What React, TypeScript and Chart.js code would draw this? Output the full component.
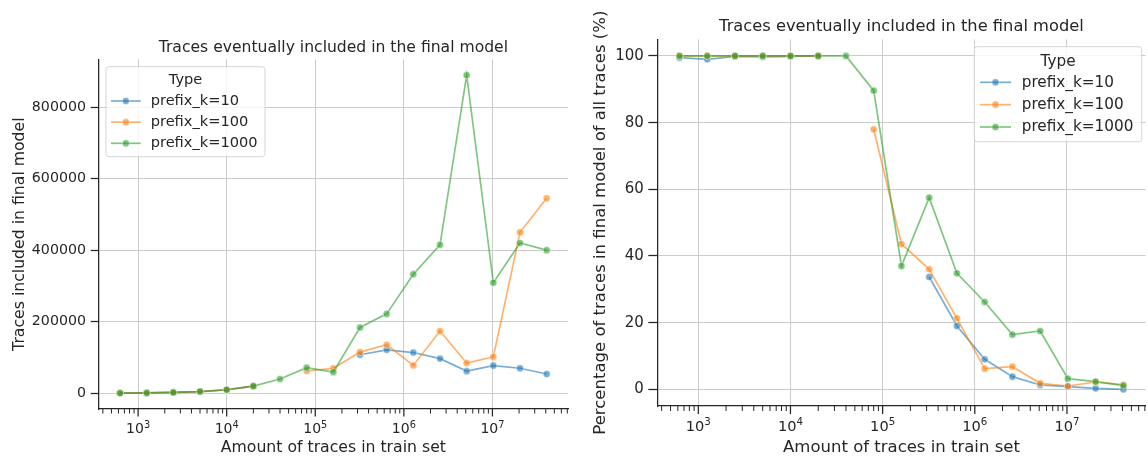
import { useEffect, useRef } from 'react';
import { Chart, registerables } from 'chart.js';

Chart.register(...registerables);

// ---------------- data ----------------
const traceCounts = [625, 1250, 2500, 5000, 10000, 20000, 40000, 80000, 160000, 320000, 640000, 1280000, 2560000, 5120000, 10240000, 20480000, 40960000];
const seriesLabels = ['prefix_k=10', 'prefix_k=100', 'prefix_k=1000'];

const includedK10 = [620, 1240, 2500, 4980, 9990, 20000, null, null, null, 107800, 121600, 114000, 97000, 62000, 77500, 70000, 54000];
const includedK100 = [625, 1250, 2500, 5000, 10000, 20000, null, 62400, 69800, 115200, 135700, 78000, 174000, 84500, 102000, 450000, 545000];
const includedK1000 = [625, 1250, 2500, 5000, 10000, 20000, 40000, 71700, 59200, 184000, 222000, 333000, 415000, 889000, 309000, 420000, 400000];

const pctK10 = [99.5, 99.0, 99.9, 99.7, 99.9, 100, null, null, null, 33.7, 19.0, 9.0, 3.8, 1.3, 0.8, 0.3, 0.0];
const pctK100 = [100, 100, 100, 100, 100, 100, null, 78.0, 43.6, 36.0, 21.3, 6.2, 6.8, 1.8, 1.0, 2.2, 1.4];
const pctK1000 = [100, 100, 100, 100, 100, 100, 100, 89.6, 37.0, 57.5, 34.8, 26.2, 16.4, 17.5, 3.2, 2.3, 1.1];

const leftYTicks = [0, 200000, 400000, 600000, 800000];
const rightYTicks = [0, 20, 40, 60, 80, 100];

const chartTitle = 'Traces eventually included in the final model';
const xAxisTitle = 'Amount of traces in train set';
const leftYAxisTitle = 'Traces included in final model';
const rightYAxisTitle = 'Percentage of traces in final model of all traces (%)';
const legendTitle = 'Type';

// ---------------- styling ----------------
const FONT = '"DejaVu Sans", "Liberation Sans", sans-serif';
const TEXT = '#262626';
const GRID = '#cccccc';
const RGB = ['31,119,180', '255,127,14', '44,160,44'];

const X_MIN = 359;
const X_MAX = 71317000;

function isPow10(v: number) {
  const l = Math.log10(v);
  return Math.abs(l - Math.round(l)) < 1e-9;
}

function xTickValues(): number[] {
  const out: number[] = [];
  for (let e = 2; e <= 7; e++) {
    for (let m = 1; m <= 9; m++) {
      const v = m * Math.pow(10, e);
      if (v >= X_MIN && v <= X_MAX) out.push(v);
    }
  }
  return out;
}

const logTicksPlugin = {
  id: 'logTicks',
  afterDraw(chart: any, _a: any, o: any) {
    const s = chart.scales.x;
    const ctx = chart.ctx;
    const y0 = chart.chartArea.bottom;
    ctx.save();
    ctx.strokeStyle = TEXT;
    ctx.fillStyle = TEXT;
    s.ticks.forEach((t: any) => {
      const px = s.getPixelForValue(t.value);
      const major = isPow10(t.value);
      ctx.beginPath();
      ctx.lineWidth = major ? 1.25 : 1;
      ctx.moveTo(px, y0);
      ctx.lineTo(px, y0 + (major ? o.majorLen : o.minorLen));
      ctx.stroke();
      if (major) {
        const e = String(Math.round(Math.log10(t.value)));
        ctx.font = `${o.fontSize}px ${FONT}`;
        const wb = ctx.measureText('10').width;
        ctx.font = `${o.fontSize * 0.7}px ${FONT}`;
        const we = ctx.measureText(e).width;
        const start = px - (wb + we) / 2;
        ctx.textAlign = 'left';
        ctx.textBaseline = 'alphabetic';
        ctx.font = `${o.fontSize}px ${FONT}`;
        ctx.fillText('10', start, y0 + o.labelGap);
        ctx.font = `${o.fontSize * 0.7}px ${FONT}`;
        ctx.fillText(e, start + wb, y0 + o.labelGap - o.fontSize * 0.37);
      }
    });
    ctx.restore();
  },
};

const textsPlugin = {
  id: 'axisTexts',
  afterDraw(chart: any, _a: any, o: any) {
    const { left, right, top, bottom } = chart.chartArea;
    const ctx = chart.ctx;
    ctx.save();
    ctx.fillStyle = TEXT;
    ctx.textBaseline = 'alphabetic';
    ctx.textAlign = 'center';
    ctx.font = `${o.titleSize}px ${FONT}`;
    ctx.fillText(o.title, (left + right) / 2, top - o.titleGap);
    ctx.font = `${o.labelSize}px ${FONT}`;
    ctx.fillText(o.xLabel, (left + right) / 2, bottom + o.xLabelGap);
    ctx.translate(left - o.yLabelGap, (top + bottom) / 2);
    ctx.rotate(-Math.PI / 2);
    ctx.fillText(o.yLabel, 0, 0);
    ctx.restore();
  },
};

const legendPlugin = {
  id: 'boxLegend',
  afterDraw(chart: any, _a: any, o: any) {
    const ctx = chart.ctx;
    ctx.save();
    const r = 3;
    ctx.beginPath();
    ctx.moveTo(o.x0 + r, o.y0);
    ctx.arcTo(o.x1, o.y0, o.x1, o.y1, r);
    ctx.arcTo(o.x1, o.y1, o.x0, o.y1, r);
    ctx.arcTo(o.x0, o.y1, o.x0, o.y0, r);
    ctx.arcTo(o.x0, o.y0, o.x1, o.y0, r);
    ctx.closePath();
    ctx.fillStyle = 'rgba(255,255,255,0.8)';
    ctx.fill();
    ctx.strokeStyle = 'rgba(204,204,204,0.8)';
    ctx.lineWidth = 1;
    ctx.stroke();

    ctx.fillStyle = TEXT;
    ctx.font = `${o.fontSize}px ${FONT}`;
    ctx.textAlign = 'center';
    ctx.textBaseline = 'alphabetic';
    ctx.fillText(legendTitle, (o.x0 + o.x1) / 2, o.titleBaseline);

    chart.data.datasets.forEach((ds: any, i: number) => {
      const y = o.rowY0 + i * o.rowGap;
      ctx.beginPath();
      ctx.strokeStyle = ds.borderColor;
      ctx.lineWidth = ds.borderWidth;
      ctx.moveTo(o.lineX0, y);
      ctx.lineTo(o.lineX1, y);
      ctx.stroke();
      ctx.beginPath();
      ctx.arc((o.lineX0 + o.lineX1) / 2, y, ds.pointRadius, 0, Math.PI * 2);
      ctx.fillStyle = ds.pointBackgroundColor;
      ctx.fill();
      ctx.strokeStyle = ds.pointBorderColor;
      ctx.lineWidth = ds.pointBorderWidth;
      ctx.stroke();
      ctx.fillStyle = TEXT;
      ctx.textAlign = 'left';
      ctx.fillText(ds.label, o.textX, y + o.textDy);
    });
    ctx.restore();
  },
};

function makeDatasets(series: (number | null)[][]) {
  return series.map((vals, i) => ({
    label: seriesLabels[i],
    data: traceCounts.map((x, j) => ({ x, y: vals[j] })),
    borderColor: `rgba(${RGB[i]},0.6)`,
    backgroundColor: `rgba(${RGB[i]},0.6)`,
    borderWidth: 1.7,
    pointRadius: 3.6,
    pointHoverRadius: 3.6,
    pointBackgroundColor: `rgba(${RGB[i]},0.6)`,
    pointBorderColor: 'rgba(255,255,255,0.6)',
    pointBorderWidth: 0.8,
    spanGaps: false,
    tension: 0,
    order: 2 - i,
  }));
}

function makeConfig(p: any): any {
  return {
    type: 'line',
    data: { datasets: makeDatasets(p.series) },
    plugins: [textsPlugin, logTicksPlugin, legendPlugin],
    options: {
      responsive: false,
      animation: false,
      events: [],
      layout: { padding: { left: 0, top: p.top, right: p.padRight, bottom: 0 } },
      scales: {
        x: {
          type: 'logarithmic',
          min: X_MIN,
          max: X_MAX,
          bounds: 'data',
          afterBuildTicks: (s: any) => {
            s.ticks = xTickValues().map((v) => ({ value: v }));
          },
          afterFit: (s: any) => {
            s.height = p.xHeight;
          },
          grid: {
            color: (c: any) => (c.tick && isPow10(c.tick.value) ? GRID : 'rgba(0,0,0,0)'),
            lineWidth: 1,
            drawTicks: false,
          },
          border: { display: true, color: TEXT, width: 1.25 },
          ticks: { display: false },
        },
        y: {
          type: 'linear',
          min: p.yMin,
          max: p.yMax,
          afterBuildTicks: (s: any) => {
            s.ticks = p.yTicks.map((v: number) => ({ value: v }));
          },
          afterFit: (s: any) => {
            s.width = p.yWidth;
          },
          grid: {
            color: GRID,
            lineWidth: 1,
            drawTicks: true,
            tickLength: p.yTickLen,
            tickColor: TEXT,
            tickWidth: 1.25,
          },
          border: { display: true, color: TEXT, width: 1.25 },
          ticks: {
            autoSkip: false,
            color: TEXT,
            padding: p.yTickPad,
            font: { family: FONT, size: p.yTickSize },
            callback: (v: any) => String(v),
          },
        },
      },
      plugins: {
        legend: { display: false },
        title: { display: false },
        tooltip: { enabled: false },
        axisTexts: {
          title: chartTitle,
          xLabel: xAxisTitle,
          yLabel: p.yLabel,
          titleSize: p.titleSize,
          labelSize: p.labelSize,
          titleGap: p.titleGap,
          xLabelGap: p.xLabelGap,
          yLabelGap: p.yLabelGap,
        },
        logTicks: p.logTicks,
        boxLegend: p.legend,
      },
    },
  };
}

export default function App() {
  const leftRef = useRef<HTMLCanvasElement>(null);
  const rightRef = useRef<HTMLCanvasElement>(null);

  useEffect(() => {
    const left = new Chart(
      leftRef.current as HTMLCanvasElement,
      makeConfig({
        series: [includedK10, includedK100, includedK1000],
        top: 59.3,
        padRight: 10,
        xHeight: 47,
        yWidth: 98.7,
        yMin: -43800,
        yMax: 933400,
        yTicks: leftYTicks,
        yTickLen: 8,
        yTickPad: 4.7,
        yTickSize: 14.2,
        yLabel: leftYAxisTitle,
        titleSize: 15.6,
        labelSize: 15.7,
        titleGap: 7.3,
        xLabelGap: 43.3,
        yLabelGap: 74.7,
        logTicks: { majorLen: 7.5, minorLen: 4.5, fontSize: 14, labelGap: 24.3 },
        legend: {
          x0: 106, x1: 265, y0: 66.7, y1: 156.7,
          titleBaseline: 83.6, rowY0: 101, rowGap: 21.15,
          lineX0: 111, lineX1: 140.7, textX: 150.7, fontSize: 14.6, textDy: 4.1,
        },
      })
    );
    const right = new Chart(
      rightRef.current as HTMLCanvasElement,
      makeConfig({
        series: [pctK10, pctK100, pctK1000],
        top: 39.3,
        padRight: 1,
        xHeight: 50,
        yWidth: 79.3,
        yMin: -5,
        yMax: 105,
        yTicks: rightYTicks,
        yTickLen: 9,
        yTickPad: 4.5,
        yTickSize: 15,
        yLabel: rightYAxisTitle,
        titleSize: 16.3,
        labelSize: 16.5,
        titleGap: 8.6,
        xLabelGap: 46,
        yLabelGap: 52.3,
        logTicks: { majorLen: 8, minorLen: 5, fontSize: 14.6, labelGap: 24.7 },
        legend: {
          x0: 396.3, x1: 563.7, y0: 46.7, y1: 141.7,
          titleBaseline: 65.7, rowY0: 82.3, rowGap: 22.35,
          lineX0: 402, lineX1: 433, textX: 443.7, fontSize: 15.25, textDy: 4.3,
        },
      })
    );
    return () => {
      left.destroy();
      right.destroy();
    };
  }, []);

  return (
    <div style={{ position: 'fixed', left: 0, top: 0, width: 1148, height: 456, overflow: 'hidden', background: '#ffffff' }}>
      <div style={{ position: 'absolute', left: 0, top: 0, width: 578, height: 456 }}>
        <canvas ref={leftRef} width={578} height={456} style={{ display: 'block' }} />
      </div>
      <div style={{ position: 'absolute', left: 578, top: 0, width: 572, height: 456 }}>
        <canvas ref={rightRef} width={572} height={456} style={{ display: 'block' }} />
      </div>
    </div>
  );
}
